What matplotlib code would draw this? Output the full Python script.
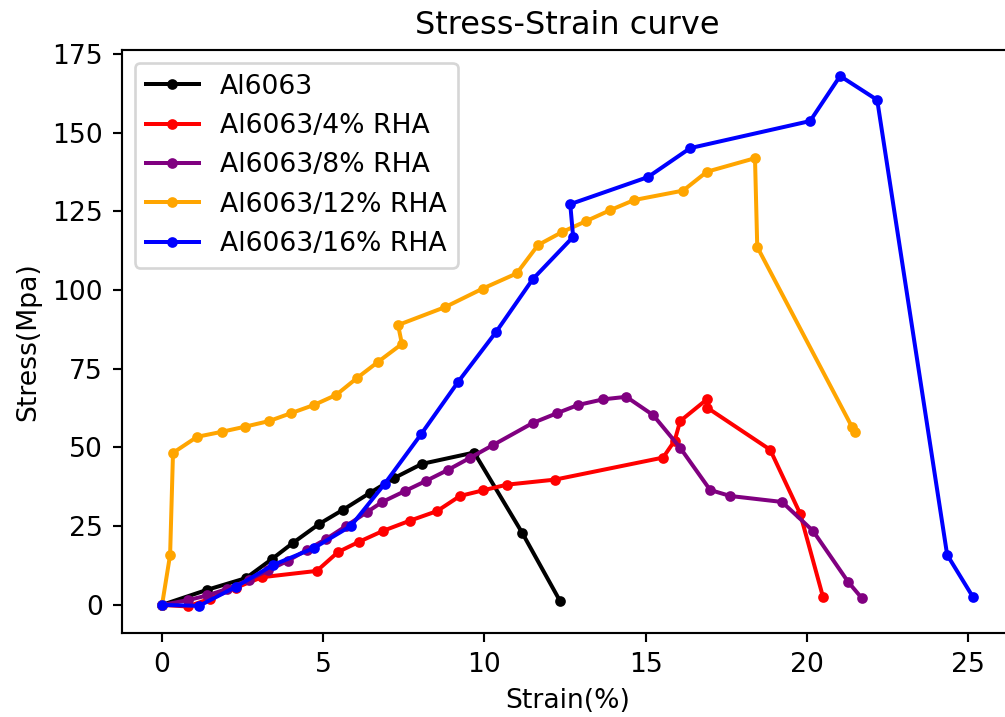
import matplotlib
matplotlib.use("Agg")
import matplotlib.pyplot as plt

# Al6063
x_al = [0, 1.4, 2.6, 3.4, 4.06, 4.87, 5.61, 6.45, 7.2, 8.06, 9.68, 11.17, 12.34]
y_al = [0, 4.8, 8.5, 14.5, 19.7, 25.7, 30.2, 35.6, 40.3, 44.8, 48.4, 22.9, 1.3]

# Al6063/4% RHA
x_4 = [0, 0.8, 1.5, 2.3, 3.1, 4.8, 5.46, 6.1, 6.85, 7.7, 8.53, 9.24, 9.96, 10.7,
       12.19, 15.54, 15.9, 16.07, 16.9, 16.9, 18.86, 19.79, 20.5]
y_4 = [0, -0.5, 2.0, 5.5, 8.8, 10.8, 16.8, 20.0, 23.5, 26.8, 29.8, 34.6, 36.4, 38.2,
       39.8, 46.8, 52.2, 58.4, 65.3, 62.7, 49.3, 29.0, 2.5]

# Al6063/8% RHA
x_8 = [0, 0.8, 1.4, 2.0, 2.7, 3.3, 3.9, 4.5, 5.1, 5.7, 6.36, 6.83, 7.54, 8.19, 8.87,
       9.55, 10.27, 11.5, 12.25, 12.9, 13.68, 14.4, 15.23, 16.07, 17.0, 17.62, 19.23,
       20.19, 21.28, 21.7]
y_8 = [0, 1.5, 3.0, 5.0, 8.0, 11.0, 14.0, 17.5, 21.0, 25.0, 29.5, 32.7, 36.2, 39.4, 42.9,
       46.7, 50.8, 57.8, 60.9, 63.5, 65.3, 66.1, 60.3, 49.9, 36.5, 34.6, 32.7,
       23.5, 7.3, 2.2]

# Al6063/12% RHA
x_12 = [0, 0.25, 0.34, 1.09, 1.86, 2.57, 3.32, 4.0, 4.71, 5.4, 6.05, 6.7, 7.44, 7.32,
        8.78, 9.95, 11.0, 11.66, 12.4, 13.15, 13.9, 14.64, 16.16, 16.9, 18.39, 18.46,
        21.4, 21.5]
y_12 = [0, 15.9, 48.3, 53.4, 55.0, 56.6, 58.4, 60.9, 63.5, 66.7, 72.1, 77.2, 82.9, 88.9,
        94.6, 100.5, 105.3, 114.3, 118.4, 121.9, 125.4, 128.6, 131.6, 137.6, 141.9, 113.7,
        56.5, 54.9]

# Al6063/16% RHA
x_16 = [0, 1.15, 2.3, 3.45, 4.7, 5.86, 6.9, 8.04, 9.18, 10.36, 11.5, 12.75, 12.66,
        15.07, 16.38, 20.1, 21.03, 22.18, 24.35, 25.15]
y_16 = [0, -0.3, 5.8, 12.7, 18.0, 25.1, 38.4, 54.3, 70.8, 86.7, 103.5, 116.9, 127.3,
        135.9, 145.1, 153.7, 168.0, 160.4, 15.9, 2.5]

series = [
    (x_al, y_al, "black", "Al6063"),
    (x_4, y_4, "red", "Al6063/4% RHA"),
    (x_8, y_8, "purple", "Al6063/8% RHA"),
    (x_12, y_12, "orange", "Al6063/12% RHA"),
    (x_16, y_16, "blue", "Al6063/16% RHA"),
]

DPI = 192
fig = plt.figure(figsize=(1005 / DPI, 717 / DPI), dpi=DPI)
ax = fig.add_axes([121.5 / 1005, 1 - 633 / 717, 892 / 1005, 583.5 / 717])
for xs, ys, c, lab in series:
    ax.plot(xs, ys, marker=".", color=c, label=lab)
ax.set_title("Stress-Strain curve")
ax.set_xlabel("Strain(%)")
ax.set_ylabel("Stress(Mpa)")
ax.legend(loc="upper left")
fig.savefig("out.png", dpi=DPI)
